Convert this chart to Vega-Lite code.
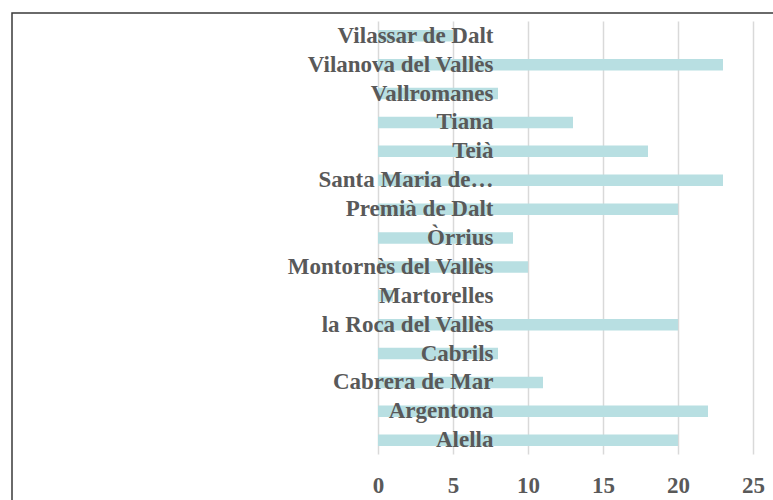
{
  "$schema": "https://vega.github.io/schema/vega-lite/v6.json",
  "autosize": "none",
  "padding": {"left": 12, "top": 13, "right": 0, "bottom": 0},
  "width": 790,
  "height": 520,
  "background": "white",
  "config": {
    "view": {"stroke": "#3a3a3a", "strokeWidth": 1.5},
    "font": "Liberation Serif"
  },
  "data": {
    "values": [
      {"municipi": "Vilassar de Dalt", "valor": 5},
      {"municipi": "Vilanova del Vallès", "valor": 23},
      {"municipi": "Vallromanes", "valor": 8},
      {"municipi": "Tiana", "valor": 13},
      {"municipi": "Teià", "valor": 18},
      {"municipi": "Santa Maria de…", "valor": 23},
      {"municipi": "Premià de Dalt", "valor": 20},
      {"municipi": "Òrrius", "valor": 9},
      {"municipi": "Montornès del Vallès", "valor": 10},
      {"municipi": "Martorelles", "valor": 1},
      {"municipi": "la Roca del Vallès", "valor": 20},
      {"municipi": "Cabrils", "valor": 8},
      {"municipi": "Cabrera de Mar", "valor": 11},
      {"municipi": "Argentona", "valor": 22},
      {"municipi": "Alella", "valor": 20}
    ]
  },
  "mark": {"type": "bar", "color": "#b8dfe2"},
  "encoding": {
    "y": {
      "field": "municipi",
      "type": "nominal",
      "sort": null,
      "scale": {"range": [17.05, 433.0], "paddingInner": 0.602, "paddingOuter": 0, "round": false},
      "axis": {
        "title": null,
        "orient": "left",
        "domain": false,
        "ticks": false,
        "grid": false,
        "labelAlign": "right",
        "labelBaseline": "middle",
        "labelPadding": -481,
        "labelFont": "Liberation Serif",
        "labelFontWeight": "bold",
        "labelFontSize": 23,
        "labelColor": "#595959",
        "labelLimit": 0,
        "labelOverlap": false,
        "zindex": 1
      }
    },
    "x": {
      "field": "valor",
      "type": "quantitative",
      "scale": {"domain": [-24.4, 28.267], "nice": false, "zero": false},
      "axis": {
        "title": null,
        "orient": "bottom",
        "offset": -79,
        "values": [0, 5, 10, 15, 20, 25],
        "domain": false,
        "grid": false,
        "ticks": true,
        "tickSize": -433,
        "tickColor": "#d9d9d9",
        "tickWidth": 1.5,
        "labelPadding": 453,
        "labelFlush": false,
        "labelOverlap": false,
        "labelFont": "Liberation Serif",
        "labelFontWeight": "bold",
        "labelFontSize": 23,
        "labelColor": "#595959",
        "zindex": 0
      }
    }
  }
}
